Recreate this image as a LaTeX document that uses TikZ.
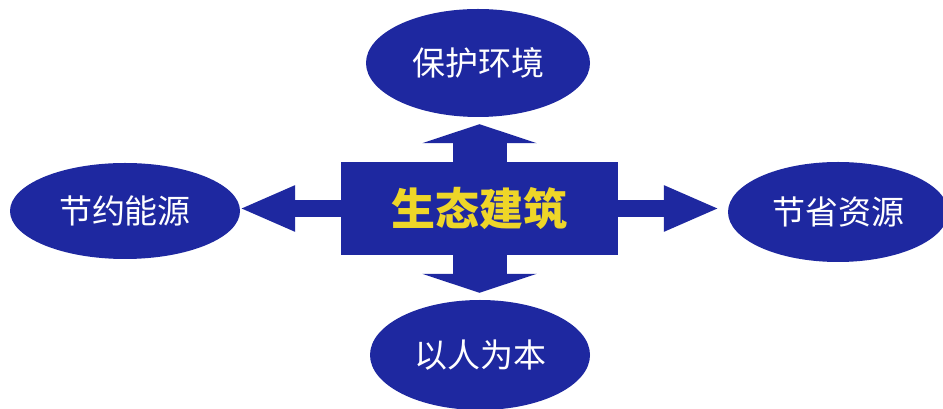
\documentclass[tikz,border=0pt]{standalone}
\usepackage{fontspec}
\newfontfamily\cjk{Noto Sans CJK SC}
\usetikzlibrary{shapes.geometric,arrows.meta}
\definecolor{dblue}{RGB}{30,40,160}
\definecolor{gold}{RGB}{238,214,40}
\tikzset{
  goal/.style={ellipse, fill=dblue, draw=none, inner sep=0pt, text=white,
    font=\cjk\fontsize{33}{33}\selectfont},
  core/.style={rectangle, fill=dblue, draw=none, inner sep=0pt, text=gold,
    font=\cjk\bfseries\fontsize{44}{44}\selectfont},
  harrow/.style={dblue, line width=17pt, -{Triangle[width=42pt,length=56pt]}},
  varrow/.style={dblue, line width=54pt, -{Triangle[width=114pt,length=19pt]}}
}
\begin{document}
\begin{tikzpicture}[x=1pt,y=1pt]
\fill[white] (0,0) rectangle (943,409);
\useasboundingbox (0,0) rectangle (943,409);
% central box (y measured from bottom: 409 - y_img)
\node[core, minimum width=277pt, minimum height=93pt] (c) at (479.5,200.5) {生态建筑};
% goals
\node[goal, minimum width=224pt, minimum height=108pt] (top) at (478,346) {保护环境};
\node[goal, minimum width=230pt, minimum height=96pt] (left) at (125,198) {节约能源};
\node[goal, minimum width=220pt, minimum height=100pt] (right) at (838,197) {节省资源};
\node[goal, minimum width=220pt, minimum height=110pt] (bottom) at (480,54) {以人为本};
% connectors
\draw[varrow, shorten >=7pt] (c.north) -- (c.north |- top.south);
\draw[varrow, shorten >=7pt] (c.south) -- (c.south |- bottom.north);
\draw[harrow, shorten >=-1pt] (c.west) -- (c.west -| left.east);
\draw[harrow, shorten >=8pt] (c.east) -- (c.east -| right.west);
\end{tikzpicture}
\end{document}
